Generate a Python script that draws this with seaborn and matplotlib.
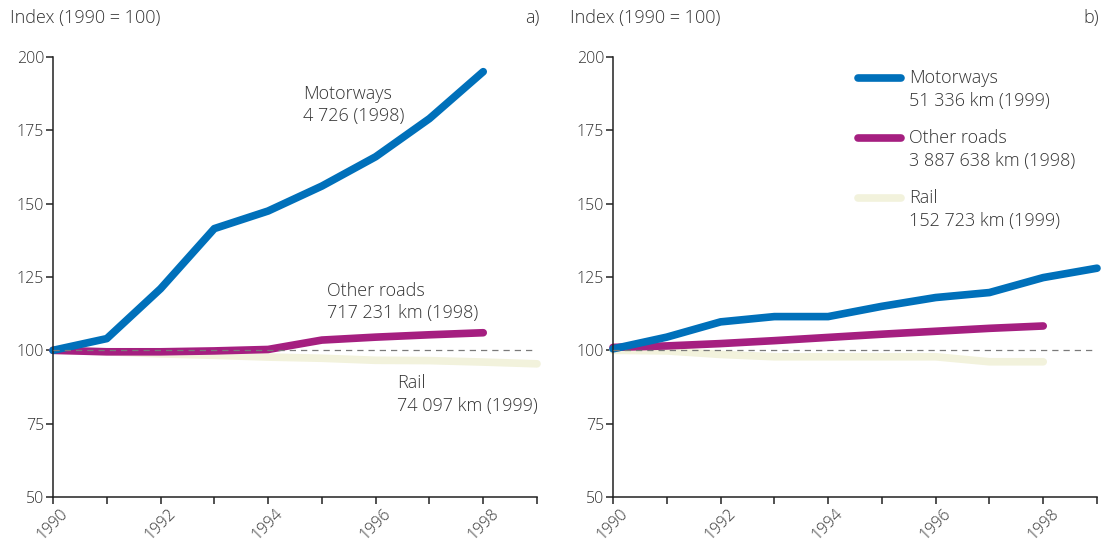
import numpy as np
import pandas as pd
import matplotlib
matplotlib.use("Agg")
import matplotlib.pyplot as plt
import matplotlib.transforms as mtransforms
from matplotlib.lines import Line2D
from matplotlib.legend_handler import HandlerLine2D
import seaborn as sns

# ---------------- data ----------------
series_names = ["Rail", "Other roads", "Motorways"]

# panel a)
years_a_motorways = [1990, 1991, 1992, 1993, 1994, 1995, 1996, 1997, 1998]
index_a_motorways = [100, 104, 121, 141.5, 147.5, 156, 166, 179, 195]
years_a_other = [1990, 1991, 1992, 1993, 1994, 1995, 1996, 1997, 1998]
index_a_other = [100, 99.5, 99.5, 99.8, 100.3, 103.5, 104.5, 105.3, 106]
years_a_rail = [1990, 1991, 1992, 1993, 1994, 1995, 1996, 1997, 1998, 1999]
index_a_rail = [100, 99.5, 98.8, 98.3, 97.7, 97.3, 96.6, 96.5, 96.0, 95.4]

# panel b)
years_b_motorways = [1990, 1991, 1992, 1993, 1994, 1995, 1996, 1997, 1998, 1999]
index_b_motorways = [100.5, 104.5, 109.7, 111.5, 111.5, 115, 118, 119.7, 124.8, 128]
years_b_other = [1990, 1991, 1992, 1993, 1994, 1995, 1996, 1997, 1998]
index_b_other = [101, 101.5, 102.3, 103.3, 104.4, 105.5, 106.5, 107.5, 108.3]
years_b_rail = [1990, 1991, 1992, 1993, 1994, 1995, 1996, 1997, 1998]
index_b_rail = [100, 99.8, 98.6, 97.8, 97.8, 97.8, 97.8, 96.1, 96.1]

labels_a = {
    "Motorways": "Motorways\n4 726 (1998)",
    "Other roads": "Other roads\n717 231 km (1998)",
    "Rail": "Rail\n74 097 km (1999)",
}
labels_b = {
    "Motorways": "Motorways\n51 336 km (1999)",
    "Other roads": "Other roads\n3 887 638 km (1998)",
    "Rail": "Rail\n152 723 km (1999)",
}
y_ticks = [50, 75, 100, 125, 150, 175, 200]
x_ticks = list(range(1990, 2000))
x_ticklabels = [str(y) if y % 2 == 0 else "" for y in x_ticks]
y_title = "Index (1990 = 100)"
panel_tags = ["a)", "b)"]

palette = {"Motorways": "#0070BA", "Other roads": "#A51F80", "Rail": "#F2F2DC"}

# ---------------- style ----------------
sns.set_style("ticks")
plt.rcParams["font.family"] = ["Open Sans", "DejaVu Sans"]
plt.rcParams["font.weight"] = "light"
TXT = "#333333"
FS = 13
TFS = 11.5
LSP = 1.32


def make_df(yr_mw, v_mw, yr_or, v_or, yr_r, v_r):
    parts = []
    for name, yr, v in [("Rail", yr_r, v_r), ("Other roads", yr_or, v_or),
                        ("Motorways", yr_mw, v_mw)]:
        parts.append(pd.DataFrame({"year": yr, "index": v, "series": name}))
    return pd.concat(parts, ignore_index=True)


df_a = make_df(years_a_motorways, index_a_motorways, years_a_other, index_a_other,
               years_a_rail, index_a_rail)
df_b = make_df(years_b_motorways, index_b_motorways, years_b_other, index_b_other,
               years_b_rail, index_b_rail)

fig = plt.figure(figsize=(11.14, 5.44), dpi=100)
ax_a = fig.add_axes([53 / 1114, 1 - 497 / 544, 484 / 1114, 440 / 544])
ax_b = fig.add_axes([613 / 1114, 1 - 497 / 544, 484 / 1114, 440 / 544])


def style_axis(ax, tag):
    ax.set_xlim(1990, 1999)
    ax.set_ylim(50, 200)
    ax.set_yticks(y_ticks)
    ax.set_xticks(x_ticks)
    ax.set_xticklabels(x_ticklabels, rotation=45, ha="center", va="top")
    offset = mtransforms.ScaledTranslation(-4 / 72, 0, ax.figure.dpi_scale_trans)
    for lab in ax.get_xticklabels():
        lab.set_transform(lab.get_transform() + offset)
    ax.tick_params(axis="both", labelsize=TFS, labelcolor=TXT, color="#222222",
                   length=5, width=1.1, pad=1.5)
    for s in ["top", "right"]:
        ax.spines[s].set_visible(False)
    for s in ["left", "bottom"]:
        ax.spines[s].set_color("#222222")
        ax.spines[s].set_linewidth(1.1)
    ax.set_xlabel("")
    ax.set_ylabel("")
    ax.axhline(100, color="#7a7a7a", lw=0.9, dashes=(5, 4), zorder=5)
    ax.text(-43 / 484, (497 - 18) / 440, y_title, transform=ax.transAxes,
            ha="left", va="center", fontsize=FS, color=TXT)
    ax.text(1.005, (497 - 18) / 440, tag, transform=ax.transAxes,
            ha="right", va="center", fontsize=FS, color=TXT)


for ax, df, tag in [(ax_a, df_a, panel_tags[0]), (ax_b, df_b, panel_tags[1])]:
    sns.lineplot(data=df, x="year", y="index", hue="series", palette=palette,
                 hue_order=series_names, linewidth=5.5, legend=False, ax=ax,
                 sort=False, estimator=None)
    for ln in ax.get_lines():
        ln.set_solid_capstyle("round")
        ln.set_solid_joinstyle("round")
        ln.set_clip_on(False)
    style_axis(ax, tag)

# panel a direct labels
ax_a.text(1994.65, 190.6, labels_a["Motorways"], ha="left", va="top",
          fontsize=FS, color=TXT, linespacing=LSP)
ax_a.text(1995.09, 123.3, labels_a["Other roads"], ha="left", va="top",
          fontsize=FS, color=TXT, linespacing=LSP)
ax_a.text(1996.39, 91.9, labels_a["Rail"], ha="left", va="top",
          fontsize=FS, color=TXT, linespacing=LSP)


# panel b legend: handle aligned with first text line
class TopHandler(HandlerLine2D):
    def __init__(self, dy, **kw):
        super().__init__(**kw)
        self.dy = dy

    def create_artists(self, legend, orig_handle, xdescent, ydescent, width,
                       height, fontsize, trans):
        arts = super().create_artists(legend, orig_handle, xdescent, ydescent,
                                      width, height, fontsize, trans)
        for a in arts:
            a.set_ydata(np.asarray(a.get_ydata(), float) + self.dy)
        return arts


handles = []
for name in ["Motorways", "Other roads", "Rail"]:
    handles.append(Line2D([0], [0], color=palette[name], lw=5.5,
                          solid_capstyle="round"))
leg = ax_b.legend(handles, [labels_b[n] for n in ["Motorways", "Other roads", "Rail"]],
                  loc="upper left", bbox_to_anchor=(0.506, 0.972), frameon=False,
                  fontsize=FS, handlelength=2.4, handletextpad=0.45,
                  labelspacing=1.08, borderpad=0, borderaxespad=0,
                  handler_map={Line2D: TopHandler(dy=0.68 * FS)})
for t in leg.get_texts():
    t.set_color(TXT)
    t.set_linespacing(LSP)

fig.savefig("out.png", dpi=100)
